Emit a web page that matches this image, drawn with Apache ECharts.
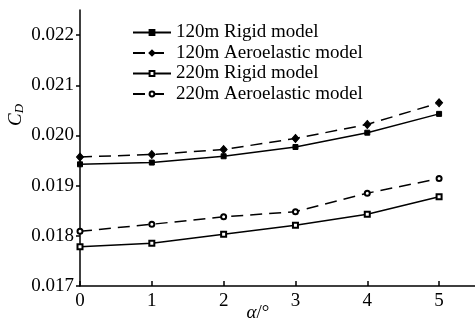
<!DOCTYPE html>
<html>
<head>
<meta charset="utf-8">
<script src="https://cdn.jsdelivr.net/npm/echarts@6/dist/echarts.min.js"></script>
<style>
  html, body { margin: 0; padding: 0; background: #fff; }
  #chart { width: 475px; height: 325px; }
</style>
</head>
<body>
<div id="chart"></div>
<script>
const angles = [0, 1, 2, 3, 4, 5]
const rigid120 = [0.019425, 0.01946, 0.019585, 0.01977, 0.020055, 0.02043]
const aero120 = [0.01957, 0.01962, 0.01972, 0.01994, 0.02022, 0.02065]
const rigid220 = [0.01778, 0.01785, 0.01803, 0.01821, 0.01843, 0.01878]
const aero220 = [0.01809, 0.01823, 0.01838, 0.01848, 0.01885, 0.01914]
const yTicks = [0.017, 0.018, 0.019, 0.020, 0.021, 0.022]
const xTicks = [0, 1, 2, 3, 4, 5]

const serif = '"Liberation Serif", "DejaVu Serif", serif'

const pairs = arr => angles.map((a, i) => [a, arr[i]])

const line = (name, data, dashed, symbol, size) => ({
  name,
  type: 'line',
  data: pairs(data),
  symbol,
  symbolSize: size,
  showAllSymbol: true,
  lineStyle: { color: '#000', width: 1.5, type: dashed ? [12, 7] : 'solid' },
  itemStyle: { color: '#000', borderColor: '#000', borderWidth: 1 },
  emphasis: { disabled: true },
})

const chart = echarts.init(document.getElementById('chart'))
chart.setOption({
  animation: false,
  backgroundColor: '#fff',
  grid: { left: 80, right: 0, top: 10, bottom: 39 },
  legend: {
    orient: 'vertical',
    left: 127,
    top: 18,
    itemWidth: 38,
    itemHeight: 6,
    itemGap: 1.5,
    textStyle: { fontFamily: serif, fontSize: 19, color: '#000', lineHeight: 18 },
    data: ['120m Rigid model', '120m Aeroelastic model', '220m Rigid model', '220m Aeroelastic model'],
  },
  xAxis: {
    type: 'value',
    min: 0,
    max: 5.5,
    interval: 1,
    axisLine: { lineStyle: { color: '#000', width: 1.5 } },
    axisTick: { inside: true, length: 5, customValues: xTicks, lineStyle: { color: '#000', width: 1.5 } },
    axisLabel: { customValues: xTicks, fontFamily: serif, fontSize: 19, color: '#000', margin: 6 },
    splitLine: { show: false },
  },
  yAxis: {
    type: 'value',
    min: 0.017,
    max: 0.0225,
    interval: 0.001,
    axisLine: { show: true, lineStyle: { color: '#000', width: 1.5 } },
    axisTick: { show: true, length: 4, customValues: yTicks, lineStyle: { color: '#000', width: 1.5 } },
    axisLabel: {
      customValues: yTicks,
      fontFamily: serif, fontSize: 19, color: '#000', margin: 6,
      formatter: v => v.toFixed(3),
    },
    splitLine: { show: false },
  },
  graphic: [
    {
      type: 'text',
      x: 16, y: 115,
      rotation: Math.PI / 2,
      style: {
        text: '{c|C}{d|D}',
        align: 'center',
        verticalAlign: 'middle',
        fill: '#000',
        rich: {
          c: { fontFamily: serif, fontStyle: 'italic', fontSize: 19, fill: '#000' },
          d: { fontFamily: serif, fontStyle: 'italic', fontSize: 13, fill: '#000', padding: [8, 0, 0, 0] },
        },
      },
    },
    {
      type: 'text',
      x: 258, y: 313,
      style: {
        text: '{a|α}{b|/°}',
        align: 'center',
        verticalAlign: 'middle',
        fill: '#000',
        rich: {
          a: { fontFamily: serif, fontStyle: 'italic', fontSize: 19, fill: '#000' },
          b: { fontFamily: serif, fontSize: 19, fill: '#000' },
        },
      },
    },
  ],
  series: [
    line('120m Rigid model', rigid120, false, 'rect', 5),
    line('120m Aeroelastic model', aero120, true, 'diamond', [7, 8]),
    line('220m Rigid model', rigid220, false, 'emptyRect', 5),
    line('220m Aeroelastic model', aero220, true, 'emptyCircle', 5),
  ],
})
</script>
</body>
</html>
